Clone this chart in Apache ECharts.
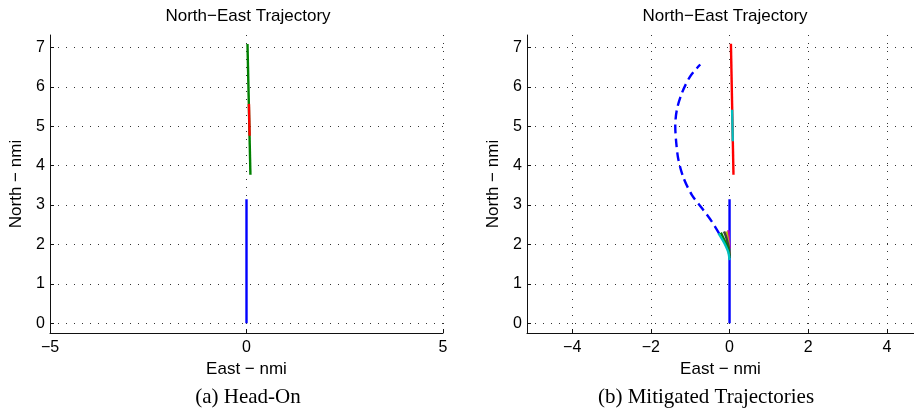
<!DOCTYPE html>
<html>
<head>
<meta charset="utf-8">
<script src="https://cdn.jsdelivr.net/npm/echarts@6/dist/echarts.min.js"></script>
<style>
  html, body { margin: 0; padding: 0; background: #fff; }
  #chart { width: 914px; height: 412px; }
</style>
</head>
<body>
<div id="chart"></div>
<script>
// Tick values
const xTicksHeadOn = [-5, 0, 5];
const xTicksMitigated = [-4, -2, 0, 2, 4];
const yTicks = [0, 1, 2, 3, 4, 5, 6, 7];

// Panel (a): head-on encounter, [east, north] in nmi
const headOnOwnship = [[0, 0], [0, 3.15]];
const headOnIntruder = [[0.1, 3.77], [0.025, 7.09]];
const headOnIntruderAlert = [[0.079, 4.76], [0.062, 5.57]];

// Panel (b): mitigated trajectories, [east, north] in nmi
const ownshipPath = [[0, 0], [0, 3.15]];
const intruderPath = [[0.1, 3.77], [0.035, 7.1]];
const intruderAlert = [[0.082, 4.62], [0.065, 5.42]];
const branchCyan = [[0, 1.6], [-0.03, 1.8], [-0.09, 1.95], [-0.17, 2.1], [-0.28, 2.28]];
const branchGreen = [[0, 1.65], [-0.02, 1.82], [-0.07, 1.98], [-0.14, 2.13], [-0.22, 2.3]];
const branchGray = [[0, 1.7], [-0.01, 1.88], [-0.05, 2.05], [-0.09, 2.2], [-0.14, 2.33]];
const branchOlive = [[0, 1.75], [-0.02, 1.95], [-0.05, 2.15], [-0.08, 2.33]];
const branchMagenta = [[0, 1.9], [-0.01, 2.05], [-0.02, 2.2], [-0.03, 2.36]];
const avoidancePath = [[-0.26, 2.27], [-0.45, 2.58], [-0.7, 2.92], [-0.96, 3.26], [-1.17, 3.69],
  [-1.3, 4.15], [-1.355, 4.58], [-1.38, 5.0], [-1.34, 5.42], [-1.21, 5.85], [-1.0, 6.27], [-0.745, 6.57]];

const FONT = '"Liberation Sans", Arial, Helvetica, sans-serif';
const SERIF = '"Liberation Serif", "Times New Roman", serif';

function axisX(idx, min, max, ticks) {
  return {
    type: 'value', gridIndex: idx, min: min, max: max,
    name: 'East − nmi', nameLocation: 'middle', nameGap: 27,
    nameTextStyle: { color: '#000', fontFamily: FONT, fontSize: 17 },
    axisLine: { onZero: false, lineStyle: { color: '#111', width: 1 } },
    axisTick: { inside: true, length: 4, customValues: ticks, lineStyle: { color: '#111' } },
    axisLabel: { customValues: ticks, margin: 7, color: '#000', fontFamily: FONT, fontSize: 16,
      formatter: v => (v < 0 ? '\u2212' + Math.abs(v) : String(v)) },
    splitLine: { show: true, lineStyle: { color: '#333', type: [1, 7], width: 1 } }
  };
}
function axisY(idx, ticks) {
  return {
    type: 'value', gridIndex: idx, min: -0.25, max: 7.32,
    name: 'North − nmi', nameLocation: 'middle', nameGap: 25, nameRotate: 90,
    nameTextStyle: { color: '#000', fontFamily: FONT, fontSize: 17 },
    axisLine: { show: true, onZero: false, lineStyle: { color: '#111', width: 1 } },
    axisTick: { show: true, inside: true, length: 4, customValues: ticks, lineStyle: { color: '#111' } },
    axisLabel: { customValues: ticks, margin: 5, color: '#000', fontFamily: FONT, fontSize: 16 },
    splitLine: { show: true, lineStyle: { color: '#333', type: [1, 7], width: 1 } }
  };
}
function path(data, color, g, dashed) {
  return {
    type: 'line', xAxisIndex: g, yAxisIndex: g, data: data,
    showSymbol: false, symbol: 'none', smooth: data.length > 2 ? 0.3 : false,
    lineStyle: { color: color, width: 2.4, type: dashed ? [9, 5] : 'solid' },
    animation: false, silent: true
  };
}

const chart = echarts.init(document.getElementById('chart'), null, { renderer: 'canvas' });
chart.setOption({
  animation: false,
  backgroundColor: '#fff',
  grid: [
    { left: 50, top: 35, width: 393, height: 298 },
    { left: 527, top: 35, width: 387, height: 298 }
  ],
  xAxis: [axisX(0, -5, 5, xTicksHeadOn), axisX(1, -5.15, 4.69, xTicksMitigated)],
  yAxis: [axisY(0, yTicks), axisY(1, yTicks)],
  series: [
    path(headOnOwnship, '#0000ff', 0),
    path(headOnIntruder, '#008000', 0),
    path(headOnIntruderAlert, '#ff0000', 0),
    path(ownshipPath, '#0000ff', 1),
    path(intruderPath, '#ff0000', 1),
    path(intruderAlert, '#00bfbf', 1),
    path(avoidancePath, '#0000ff', 1, true),
    path(branchMagenta, '#bf00bf', 1),
    path(branchOlive, '#bfbf00', 1),
    path(branchGray, '#404040', 1),
    path(branchGreen, '#008000', 1),
    path(branchCyan, '#00bfbf', 1)
  ],
  graphic: [
    { type: 'text', x: 248, y: 16, style: { text: 'North\u2212East Trajectory', font: '17px ' + FONT, fill: '#000', textAlign: 'center', textVerticalAlign: 'middle' } },
    { type: 'text', x: 725, y: 16, style: { text: 'North\u2212East Trajectory', font: '17px ' + FONT, fill: '#000', textAlign: 'center', textVerticalAlign: 'middle' } },
    { type: 'text', x: 248, y: 397, style: { text: '(a) Head-On', font: '21px ' + SERIF, fill: '#000', textAlign: 'center', textVerticalAlign: 'middle' } },
    { type: 'text', x: 706, y: 397, style: { text: '(b) Mitigated Trajectories', font: '21px ' + SERIF, fill: '#000', textAlign: 'center', textVerticalAlign: 'middle' } }
  ]
});
</script>
</body>
</html>
